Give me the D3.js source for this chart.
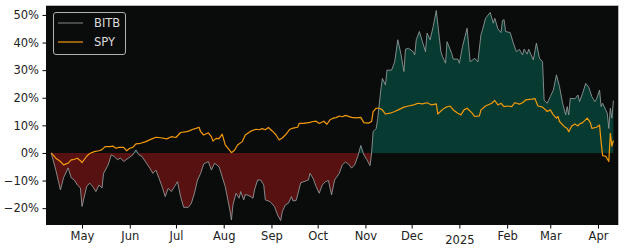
<!DOCTYPE html>
<html><head><meta charset="utf-8">
<script src="https://cdn.jsdelivr.net/npm/d3@7"></script>
<style>
html,body{margin:0;padding:0;background:#fff;}
svg{display:block;font-family:"DejaVu Sans",sans-serif;}
</style></head>
<body><svg id="c" width="625" height="250"></svg>
<script>
const bitbDates = ["2024-04-11","2024-04-14","2024-04-17","2024-04-19","2024-04-22","2024-04-24","2024-04-26","2024-04-28","2024-04-30",
"2024-05-01","2024-05-04","2024-05-06","2024-05-08","2024-05-10","2024-05-12","2024-05-14","2024-05-15","2024-05-18","2024-05-20","2024-05-22","2024-05-24","2024-05-26","2024-05-28","2024-05-31",
"2024-06-03","2024-06-05","2024-06-07","2024-06-09","2024-06-11","2024-06-14","2024-06-16","2024-06-18","2024-06-20","2024-06-22","2024-06-24","2024-06-26","2024-06-28","2024-06-30",
"2024-07-02","2024-07-04","2024-07-06","2024-07-09","2024-07-11","2024-07-13","2024-07-15","2024-07-17","2024-07-19","2024-07-22","2024-07-24","2024-07-26","2024-07-29","2024-07-31",
"2024-08-02","2024-08-05","2024-08-06","2024-08-07","2024-08-09","2024-08-11","2024-08-12","2024-08-14","2024-08-15","2024-08-18","2024-08-20","2024-08-21","2024-08-23","2024-08-25","2024-08-27","2024-08-28","2024-08-31",
"2024-09-03","2024-09-05","2024-09-07","2024-09-08","2024-09-10","2024-09-12","2024-09-14","2024-09-15","2024-09-17","2024-09-18","2024-09-20","2024-09-22","2024-09-25","2024-09-26","2024-09-28","2024-09-30",
"2024-10-02","2024-10-04","2024-10-06","2024-10-08","2024-10-10","2024-10-12","2024-10-15","2024-10-17","2024-10-19","2024-10-21","2024-10-23","2024-10-25","2024-10-27","2024-10-29","2024-10-31",
"2024-11-02","2024-11-04","2024-11-05","2024-11-06","2024-11-08","2024-11-09","2024-11-11","2024-11-12","2024-11-14","2024-11-15","2024-11-18","2024-11-20","2024-11-22","2024-11-24","2024-11-26","2024-11-27","2024-11-29",
"2024-12-02","2024-12-03","2024-12-04","2024-12-06","2024-12-08","2024-12-10","2024-12-11","2024-12-13","2024-12-15","2024-12-17","2024-12-20","2024-12-21","2024-12-23","2024-12-24","2024-12-27","2024-12-28","2024-12-31",
"2025-01-01","2025-01-03","2025-01-06","2025-01-08","2025-01-11","2025-01-13","2025-01-15","2025-01-16","2025-01-18","2025-01-21","2025-01-23","2025-01-24","2025-01-26","2025-01-28","2025-01-29","2025-01-30","2025-01-31",
"2025-02-03","2025-02-05","2025-02-07","2025-02-09","2025-02-11","2025-02-12","2025-02-14","2025-02-15","2025-02-18","2025-02-20","2025-02-22","2025-02-24","2025-02-25","2025-02-27",
"2025-03-01","2025-03-03","2025-03-05","2025-03-07","2025-03-09","2025-03-11","2025-03-12","2025-03-13","2025-03-14","2025-03-17","2025-03-19","2025-03-20","2025-03-22","2025-03-24","2025-03-26","2025-03-28","2025-03-30","2025-03-31",
"2025-04-02","2025-04-03","2025-04-04","2025-04-06","2025-04-07","2025-04-08","2025-04-09","2025-04-10","2025-04-11"];
const bitbValues = [0,-6.2,-13.4,-9.0,-5.4,-9.0,-9.8,-11.6,-12.7,
-19.4,-12.2,-10.9,-12.2,-14.0,-11.6,-12.7,-7.4,-4.3,-0.7,-1.3,-2.5,-1.8,-3.1,-1.9,
-0.7,1.1,-0.7,-1.3,-3.0,-5.5,-7.4,-6.2,-9.2,-12.2,-15.8,-12.8,-14.0,-12.2,
-10.4,-15.8,-19.7,-19.7,-18.2,-14.6,-9.8,-7.4,-4.0,-3.1,-6.2,-3.7,-5.0,-8.6,
-12.2,-20.7,-24.3,-18.8,-14.6,-16.4,-14.0,-17.0,-15.0,-15.6,-16.4,-13.4,-9.8,-9.8,-11.6,-17.0,-17.6,
-19.4,-22.5,-24.5,-21.3,-18.8,-18.2,-15.8,-17.4,-17.2,-15.2,-10.8,-10.4,-9.8,-7.4,-9.2,-12.2,
-14.6,-11.6,-10.4,-10.0,-15.2,-9.8,-7.4,-4.3,-3.3,-4.0,-5.5,-4.3,-1.3,2.7,-0.7,
-2.5,-4.6,0,7.7,8.9,12.6,22.8,27.0,24.6,30.0,30.0,33.0,41.0,36.0,29.5,37.6,37.9,
36.7,35.5,41.0,44.0,40.3,36.7,43.4,41.0,45.8,51.6,36.7,35.0,32.5,40.3,36.1,34.0,34.0,
32.5,38.5,45.2,33.0,34.3,33.0,42.8,44.6,48.8,50.9,47.0,48.8,45.0,43.6,48.0,48.3,44.0,
43.6,39.8,36.7,37.5,35.5,37.6,35.8,37.6,33.7,39.8,34.3,33.0,19.2,18.0,
20.4,22.8,28.3,24.0,18.0,13.8,16.8,13.8,19.8,19.6,21.0,18.6,21.6,25.2,23.8,20.4,18.6,19.5,
22.8,16.8,18.0,15.6,14.4,8.9,16.2,12.6,19.0];

const spyDates = ["2024-04-11","2024-04-14","2024-04-17","2024-04-19","2024-04-22","2024-04-24","2024-04-26","2024-04-28","2024-04-30",
"2024-05-01","2024-05-04","2024-05-06","2024-05-09","2024-05-12","2024-05-14","2024-05-16","2024-05-19","2024-05-21","2024-05-23","2024-05-25","2024-05-28","2024-05-30",
"2024-06-01","2024-06-03","2024-06-05","2024-06-08","2024-06-11","2024-06-15","2024-06-18","2024-06-21","2024-06-25","2024-06-28",
"2024-07-01","2024-07-04","2024-07-08","2024-07-10","2024-07-12","2024-07-14","2024-07-16","2024-07-17","2024-07-19","2024-07-22","2024-07-24","2024-07-25","2024-07-27","2024-07-29","2024-07-31",
"2024-08-02","2024-08-05","2024-08-06","2024-08-08","2024-08-10","2024-08-13","2024-08-15","2024-08-19","2024-08-22","2024-08-24","2024-08-26","2024-08-28","2024-08-30",
"2024-09-02","2024-09-04","2024-09-06","2024-09-08","2024-09-10","2024-09-13","2024-09-15","2024-09-18","2024-09-19","2024-09-22","2024-09-26","2024-09-28","2024-09-30",
"2024-10-02","2024-10-05","2024-10-07","2024-10-09","2024-10-11","2024-10-13","2024-10-15","2024-10-17","2024-10-19","2024-10-23","2024-10-26","2024-10-29","2024-10-31",
"2024-11-03","2024-11-05","2024-11-06","2024-11-08","2024-11-10","2024-11-12","2024-11-14","2024-11-17","2024-11-20","2024-11-23","2024-11-26","2024-11-29",
"2024-12-03","2024-12-05","2024-12-08","2024-12-11","2024-12-14","2024-12-17","2024-12-18","2024-12-21","2024-12-23","2024-12-26","2024-12-28","2024-12-31",
"2025-01-02","2025-01-04","2025-01-06","2025-01-09","2025-01-11","2025-01-14","2025-01-15","2025-01-18","2025-01-22","2025-01-24","2025-01-26","2025-01-28","2025-01-30",
"2025-02-01","2025-02-04","2025-02-06","2025-02-09","2025-02-11","2025-02-13","2025-02-17","2025-02-19","2025-02-21","2025-02-24","2025-02-27",
"2025-03-01","2025-03-03","2025-03-05","2025-03-06","2025-03-07","2025-03-10","2025-03-12","2025-03-13","2025-03-15","2025-03-17","2025-03-19","2025-03-20","2025-03-22","2025-03-25","2025-03-27","2025-03-28","2025-03-31",
"2025-04-02","2025-04-03","2025-04-04","2025-04-06","2025-04-08","2025-04-09","2025-04-10","2025-04-11"];
const spyValues = [0,-1.9,-3.1,-4.3,-3.7,-2.5,-2.3,-1.9,-2.8,
-3.5,-1.2,-0.2,0.5,0.8,1.2,2.3,2.3,2.5,1.7,2.0,2.0,0.8,
1.7,2.0,3.3,3.5,4.0,5.0,5.7,5.5,5.1,5.9,
5.6,7.4,7.7,8.1,8.6,8.9,9.3,7.7,6.5,7.3,5.9,4.3,5.3,5.2,6.8,
2.9,0.8,0.1,1.0,2.9,4.1,6.5,8.0,8.6,8.4,8.8,8.4,9.2,
7.7,6.5,4.7,5.4,6.5,8.6,9.0,9.3,10.7,10.7,11.1,11.4,11.5,
10.7,11.5,10.4,12.0,12.6,12.8,13.4,13.1,13.6,12.9,12.7,12.9,11.0,
10.8,11.4,15.0,16.2,16.2,15.6,14.1,14.4,15.0,15.8,16.6,17.0,
17.5,18.0,17.8,18.2,17.4,17.8,14.1,15.7,16.5,17.0,15.6,14.4,
13.8,15.6,16.2,14.6,13.2,13.4,15.6,17.0,18.0,19.0,17.4,18.0,16.8,
17.0,16.8,18.2,17.7,18.2,19.2,19.5,19.7,17.0,16.6,15.0,
15.6,13.8,12.6,13.2,11.4,9.6,8.9,7.7,9.8,10.5,9.8,10.5,11.0,12.6,11.0,8.9,9.3,
10.1,4.1,-1.0,-1.2,-3.1,7.1,2.5,4.5];

const yTicks = [-20,-10,0,10,20,30,40,50];
const seriesNames = ["BITB","SPY"];
const seriesColors = ["#8e9696","#f29a0c"];

const W = 625, H = 250;
const M = {left:46, right:6, top:5, bottom:25};
const parse = d3.utcParse("%Y-%m-%d");
const bitb = bitbDates.map((d,i)=>({date:parse(d), v:bitbValues[i]}));
const spy = spyDates.map((d,i)=>({date:parse(d), v:spyValues[i]}));

const x = d3.scaleUtc()
  .domain([new Date(Date.UTC(2024,3,7,15)), new Date(Date.UTC(2025,3,14,15))])
  .range([M.left, W-M.right]);
const y = d3.scaleLinear().domain([-26.1, 53.6]).range([H-M.bottom, M.top]);

const svg = d3.select("#c");
const defs = svg.append("defs");
defs.append("clipPath").attr("id","pos").append("rect")
  .attr("x",M.left).attr("y",M.top).attr("width",W-M.left-M.right).attr("height",y(0)-M.top);
defs.append("clipPath").attr("id","neg").append("rect")
  .attr("x",M.left).attr("y",y(0)).attr("width",W-M.left-M.right).attr("height",H-M.bottom-y(0));
defs.append("clipPath").attr("id","plot").append("rect")
  .attr("x",M.left).attr("y",M.top).attr("width",W-M.left-M.right).attr("height",H-M.top-M.bottom);

svg.append("rect").attr("x",M.left).attr("y",M.top)
  .attr("width",W-M.left-M.right).attr("height",H-M.top-M.bottom).attr("fill","#0a0b0b");

const area = d3.area().x(d=>x(d.date)).y0(y(0)).y1(d=>y(d.v));
svg.append("path").datum(bitb).attr("d",area).attr("fill","#073a31").attr("clip-path","url(#pos)");
svg.append("path").datum(bitb).attr("d",area).attr("fill","#581111").attr("clip-path","url(#neg)");

const line = d3.line().x(d=>x(d.date)).y(d=>y(d.v));
const g = svg.append("g").attr("clip-path","url(#plot)");
g.append("path").datum(bitb).attr("d",line).attr("fill","none")
  .attr("stroke",seriesColors[0]).attr("stroke-width",0.9).attr("stroke-linejoin","round");
g.append("path").datum(spy).attr("d",line).attr("fill","none")
  .attr("stroke",seriesColors[1]).attr("stroke-width",1.2).attr("stroke-linejoin","round");

// spines
svg.append("line").attr("x1",M.left).attr("x2",W-M.right).attr("y1",M.top+0.5).attr("y2",M.top+0.5).attr("stroke","#b8b8b8");
svg.append("line").attr("x1",W-M.right-0.5).attr("x2",W-M.right-0.5).attr("y1",M.top).attr("y2",H-M.bottom).attr("stroke","#b8b8b8");

// axes
const fmtY = v => (v<0?"\u2212"+(-v):v)+"%";
const yAxis = d3.axisLeft(y).tickValues(yTicks).tickFormat(fmtY).tickSize(3.5).tickPadding(3.5);
const ya = svg.append("g").attr("transform",`translate(${M.left},0)`).call(yAxis);
ya.select(".domain").remove();
ya.selectAll("text").attr("font-size","11.5px").attr("fill","#222").attr("font-family","DejaVu Sans");

const fmtX = d => d.getUTCMonth()===0 ? d3.utcFormat("%Y")(d) : d3.utcFormat("%b")(d);
const xAxis = d3.axisBottom(x).ticks(d3.utcMonth.every(1)).tickFormat(fmtX).tickSize(3.5).tickPadding(3.5);
const xa = svg.append("g").attr("transform",`translate(0,${H-M.bottom})`).call(xAxis);
xa.select(".domain").remove();
xa.selectAll("text").attr("font-size","11.5px").attr("fill","#222").attr("font-family","DejaVu Sans")
  .attr("dy", d => d.getUTCMonth()===0 ? "1.0em" : "0.71em");

// legend
const lg = svg.append("g");
lg.append("rect").attr("x",53.5).attr("y",12.5).attr("width",72).attr("height",42).attr("rx",2.5)
  .attr("fill","#0a0b0b").attr("stroke","#b0b0b0").attr("stroke-width",1);
seriesNames.forEach((n,i)=>{
  const yy = 23 + i*19;
  lg.append("line").attr("x1",58).attr("x2",83).attr("y1",yy).attr("y2",yy)
    .attr("stroke",seriesColors[i]).attr("stroke-width",i===0?0.9:1.2);
  lg.append("text").attr("x",94).attr("y",yy).attr("dy","0.36em").attr("font-size","11.5px")
    .attr("fill","#dcdcdc").text(n);
});
</script></body></html>
